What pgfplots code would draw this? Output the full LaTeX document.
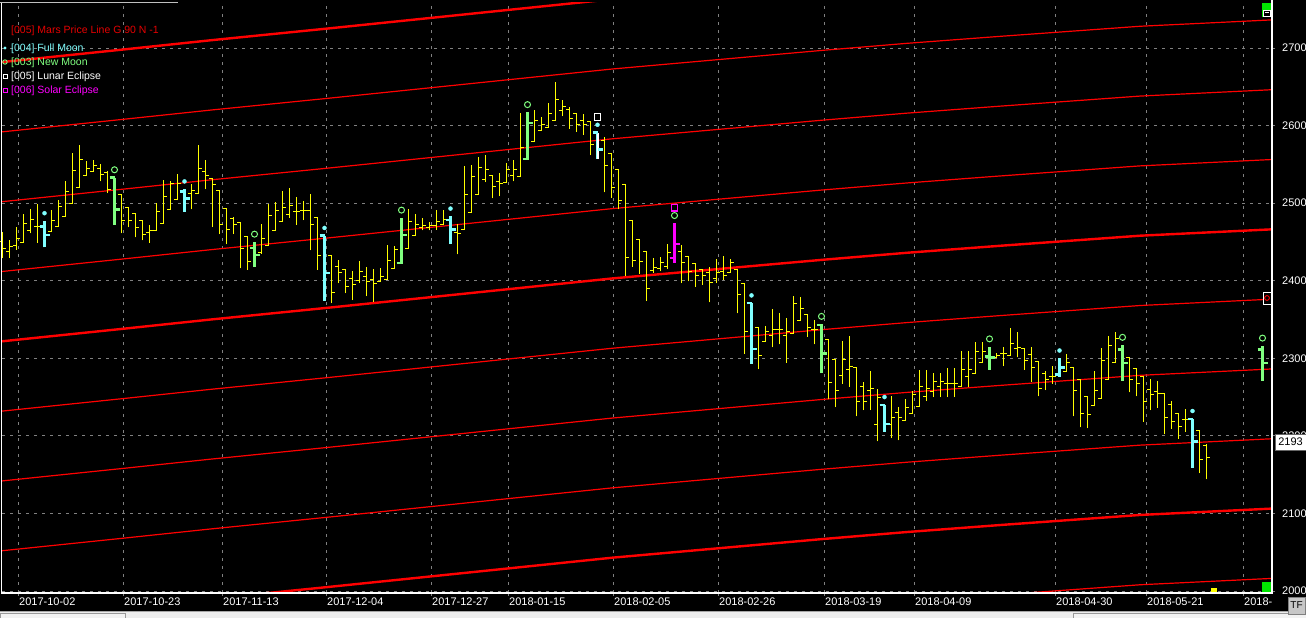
\documentclass[border=0pt]{standalone}
\usepackage{fontspec}
\setmainfont{Liberation Sans}
\usepackage{pgfplots}
\usepackage{pgfplotstable}
\pgfplotsset{compat=1.18}
\definecolor{fm}{RGB}{128,255,255}
\definecolor{nm}{RGB}{128,255,128}
\definecolor{mred}{RGB}{255,0,0}
\definecolor{gridg}{RGB}{128,128,128}
\definecolor{yel}{RGB}{255,255,0}
\definecolor{mag}{RGB}{255,0,255}
\definecolor{uig}{RGB}{0,230,0}
\pgfdeclareplotmark{otick}{\pgfpathmoveto{\pgfqpoint{-\pgfplotmarksize}{0pt}}\pgfpathlineto{\pgfqpoint{0pt}{0pt}}\pgfusepathqstroke}
\pgfdeclareplotmark{ctick}{\pgfpathmoveto{\pgfqpoint{0pt}{0pt}}\pgfpathlineto{\pgfqpoint{\pgfplotmarksize}{0pt}}\pgfusepathqstroke}

\pgfplotstableread{
i a b c d e f g h m n
-1 2681 2591 2501 2411 2321 2231 2141 2051 1961 1871
17.21 2698 2608 2518 2428 2338 2248 2158 2068 1978 1888
29.79 2710 2620 2530 2440 2350 2260 2170 2080 1990 1900
46.36 2725 2635 2545 2455 2365 2275 2185 2095 2005 1915
62.5 2740 2650 2560 2470 2380 2290 2200 2110 2020 1930
87.21 2763 2673 2583 2493 2403 2313 2223 2133 2043 1953
102.21 2775 2685 2595 2505 2415 2325 2235 2145 2055 1965
117.21 2787 2697 2607 2517 2427 2337 2247 2157 2067 1977
129.21 2796 2706 2616 2526 2436 2346 2256 2166 2076 1986
142.5 2805 2715 2625 2535 2445 2355 2265 2175 2085 1995
162.5 2818 2728 2638 2548 2458 2368 2278 2188 2098 2008
182 2826.5 2736.5 2646.5 2556.5 2466.5 2376.5 2286.5 2196.5 2106.5 2016.5
}\mars

\pgfplotstableread{
i o h l c
0 2450 2463 2429 2442
1 2437 2453 2429 2444
2 2446 2469 2440 2455
3 2449 2486 2449 2474
4 2465 2493 2461 2479
5 2470 2499 2449 2470
7 2464 2491 2464 2478
8 2470 2504 2470 2496
9 2483 2528 2483 2515
10 2500 2565 2500 2542
11 2520 2575 2520 2556
12 2535 2554 2535 2544
13 2541 2556 2541 2549
14 2544 2550 2528 2537
15 2539 2541 2513 2517
17 2511 2511 2461 2477
18 2495 2495 2469 2477
19 2486 2486 2456 2469
20 2477 2477 2452 2459
21 2462 2472 2449 2465
22 2465 2500 2465 2489
23 2474 2530 2474 2509
24 2492 2528 2492 2525
25 2505 2538 2504 2525
27 2513 2525 2492 2516
28 2512 2575 2512 2545
29 2541 2555 2518 2535
30 2532 2532 2469 2524
31 2516 2516 2460 2472
32 2493 2493 2447 2466
33 2480 2482 2460 2472
34 2475 2475 2416 2442
35 2457 2457 2414 2425
37 2436 2473 2435 2455
38 2446 2499 2446 2484
39 2465 2502 2465 2490
40 2476 2516 2476 2494
41 2485 2520 2481 2497
42 2489 2508 2472 2489
43 2490 2503 2478 2490
44 2491 2512 2439 2473
45 2482 2482 2414 2432
47 2433 2433 2371 2385
48 2418 2427 2397 2410
49 2414 2414 2384 2393
50 2403 2412 2375 2395
51 2400 2426 2397 2412
52 2405 2418 2380 2399
53 2402 2415 2373 2396
54 2399 2416 2399 2405
55 2402 2446 2402 2426
56 2416 2445 2416 2440
58 2441 2492 2441 2476
59 2458 2486 2458 2473
60 2468 2481 2465 2471
61 2469 2476 2465 2471
62 2471 2491 2466 2476
63 2472 2491 2472 2479
65 2462 2473 2434 2461
66 2466 2548 2466 2511
67 2488 2549 2488 2534
68 2511 2559 2511 2546
69 2530 2562 2527 2543
70 2536 2536 2506 2521
71 2528 2539 2509 2525
72 2527 2552 2527 2543
73 2535 2556 2528 2543
74 2534 2616 2534 2572
76 2579 2620 2579 2607
77 2594 2611 2594 2602
78 2598 2629 2598 2616
79 2606 2656 2606 2634
80 2619 2633 2612 2625
81 2621 2624 2596 2609
82 2616 2616 2592 2602
83 2607 2615 2588 2602
84 2605 2605 2562 2575
86 2581 2585 2514 2549
87 2564 2564 2507 2520
88 2543 2543 2492 2503
89 2524 2524 2406 2430
90 2477 2477 2418 2426
91 2453 2453 2409 2425
92 2438 2438 2374 2390
93 2413 2429 2410 2417
94 2416 2430 2412 2423
95 2418 2447 2415 2436
97 2438 2446 2397 2423
98 2431 2431 2399 2412
99 2422 2422 2392 2407
100 2415 2415 2395 2407
101 2410 2418 2372 2398
102 2403 2428 2397 2410
103 2412 2432 2401 2407
104 2411 2428 2411 2423
105 2415 2415 2358 2382
106 2396 2396 2306 2334
108 2340 2340 2286 2304
109 2321 2342 2321 2334
110 2329 2363 2314 2337
111 2337 2359 2318 2337
112 2329 2352 2294 2334
113 2332 2380 2332 2370
114 2349 2379 2349 2364
115 2357 2357 2328 2340
116 2337 2349 2318 2337
118 2324 2324 2247 2269
119 2298 2298 2237 2259
120 2278 2322 2267 2298
121 2286 2329 2263 2289
122 2288 2288 2225 2244
123 2263 2269 2233 2244
124 2258 2284 2233 2261
125 2214 2260 2193 2250
127 2214 2251 2197 2224
128 2230 2237 2194 2223
129 2220 2247 2220 2237
130 2229 2258 2229 2253
131 2238 2285 2238 2263
132 2251 2285 2245 2261
133 2257 2281 2250 2270
134 2263 2281 2250 2270
135 2268 2287 2250 2268
136 2268 2287 2250 2268
137 2263 2310 2263 2285
138 2276 2310 2263 2285
139 2281 2321 2281 2309
140 2294 2321 2294 2309
142 2301 2307 2300 2303
143 2306 2314 2290 2306
144 2304 2339 2303 2319
145 2312 2334 2301 2314
146 2313 2313 2285 2297
147 2305 2314 2269 2288
148 2296 2296 2251 2261
149 2280 2284 2259 2272
150 2276 2290 2267 2276
152 2283 2306 2283 2294
153 2288 2288 2225 2258
154 2273 2273 2211 2229
155 2251 2251 2210 2227
156 2239 2284 2238 2259
157 2248 2313 2248 2297
158 2273 2329 2273 2316
159 2294 2334 2294 2325
161 2301 2301 2256 2273
162 2287 2287 2251 2267
163 2277 2277 2218 2244
164 2260 2273 2233 2253
165 2257 2271 2236 2254
166 2255 2255 2202 2223
167 2240 2245 2209 2219
168 2229 2229 2196 2212
169 2221 2234 2205 2221
171 2207 2207 2152 2169
172 2188 2190 2144 2172
}\yeltab

\pgfplotstableread{
i o h l c
6 2470 2477 2443 2459
26 2515 2518 2489 2506
46 2458 2458 2374 2410
64 2478 2483 2447 2466
85 2591 2591 2557 2569
107 2371 2371 2293 2312
126 2240 2240 2205 2215
151 2279 2300 2276 2288
170 2222 2222 2159 2193
}\fulltab

\pgfplotstableread{
i o h l c
16 2533 2533 2472 2492
36 2442 2450 2418 2433
57 2423 2481 2422 2459
75 2557 2617 2556 2603
96 2429 2474 2423 2447
117 2343 2344 2281 2306
141 2302 2315 2285 2301
160 2311 2317 2271 2294
180 2311 2316 2271 2294
}\newtab

\pgfplotstableread{
i o h l c
85 2591 2591 2557 2569
}\lunartab

\pgfplotstableread{
i o h l c
96 2429 2474 2423 2447
}\solartab

\newcommand{\hilo}[3]{%
  \addplot[only marks, mark=*, mark size=0pt, mark options={draw=none, fill=none}, color=#2,
    error bars/.cd, y dir=plus, y explicit, error mark=none,
    error bar style={draw=#2, line width=#3}]
    table[x=i, y=l, y error expr=\thisrow{h}-\thisrow{l}] {#1};}
\newcommand{\octicks}[4]{%
  \addplot[only marks, mark=otick, mark size=#4, color=#2, mark options={line width=#3}] table[x=i, y=o] {#1};
  \addplot[only marks, mark=ctick, mark size=#4, color=#2, mark options={line width=#3}] table[x=i, y=c] {#1};}

\begin{document}
\begin{tikzpicture}[x=1pt,y=1pt]
\useasboundingbox (0,0) rectangle (1306,618);
\fill[black] (0,0) rectangle (1306,618);
\fill[black!7] (0,0) rectangle (1306,7);
\draw[black!35] (0,7) -- (1306,7);
\draw[black!40, fill=white!95!black] (0.5,-1) rectangle (125,5);
\draw[black!40, fill=white!95!black] (1073,-1) rectangle (1306,5);
\begin{axis}[
  at={(2pt,25pt)}, anchor=south west, scale only axis,
  width=1270pt, height=590pt,
  xmin=-0.0714, xmax=181.357, ymin=1997.4, ymax=2758,
  axis line style={draw=none},
  axis background/.style={fill=black},
  xtick={2.21,17.21,31.36,46.21,61.21,72.21,87.21,102.21,117.36,130.21,150.36,163.36,177.21},
  xticklabels={2017-10-02,2017-10-23,2017-11-13,2017-12-04,2017-12-27,2018-01-15,2018-02-05,2018-02-26,2018-03-19,2018-04-09,2018-04-30,2018-05-21,2018-},
  ytick={2000,2100,2200,2300,2400,2500,2600,2700},
  ytick pos=right, yticklabel pos=right, xtick pos=bottom,
  tick align=outside, major tick length=3pt,
  tick style={gridg, line width=0.8pt},
  grid=major,
  major grid style={gridg, line width=0.9pt, dash pattern=on 3pt off 5pt},
  ticklabel style={font=\fontsize{11}{12}\selectfont, text=white},
  yticklabel style={anchor=west, inner sep=0pt, xshift=7pt},
  xticklabel style={anchor=north west, inner sep=0pt, yshift=-2pt, xshift=1pt},
  /pgf/number format/1000 sep={},
  /pgf/number format/assume math mode=true,
  clip=true,
]
% Mars price lines
\addplot[mred, line width=2.4pt] table[x=i, y=a] {\mars};
\addplot[mred, line width=1.2pt] table[x=i, y=b] {\mars};
\addplot[mred, line width=1.2pt] table[x=i, y=c] {\mars};
\addplot[mred, line width=1.2pt] table[x=i, y=d] {\mars};
\addplot[mred, line width=2.4pt] table[x=i, y=e] {\mars};
\addplot[mred, line width=1.2pt] table[x=i, y=f] {\mars};
\addplot[mred, line width=1.2pt] table[x=i, y=g] {\mars};
\addplot[mred, line width=1.2pt] table[x=i, y=h] {\mars};
\addplot[mred, line width=2.4pt] table[x=i, y=m] {\mars};
\addplot[mred, line width=1.2pt] table[x=i, y=n] {\mars};
% price bars
\hilo{\yeltab}{yel}{1pt}
\octicks{\yeltab}{yel}{1pt}{3.5pt}
\hilo{\fulltab}{fm}{3pt}
\octicks{\fulltab}{fm}{2.5pt}{5pt}
\hilo{\newtab}{nm}{3pt}
\octicks{\newtab}{nm}{2.5pt}{5pt}
\hilo{\lunartab}{white}{2pt}
\hilo{\solartab}{mag}{2.4pt}
\octicks{\solartab}{mag}{2.5pt}{5pt}
% moon markers
\addplot[only marks, mark=*, mark size=2pt, color=fm] table[x=i, y expr=\thisrow{h}+10] {\fulltab};
\addplot[only marks, mark=o, mark size=3pt, color=nm, mark options={line width=1pt}] table[x=i, y expr=\thisrow{h}+10] {\newtab};
\addplot[only marks, mark=square, mark size=3.2pt, color=white, mark options={line width=1.3pt}] table[x=i, y expr=\thisrow{h}+20] {\lunartab};
\addplot[only marks, mark=square, mark size=3.2pt, color=mag, mark options={line width=1.3pt}] table[x=i, y expr=\thisrow{h}+20] {\solartab};
\addplot[only marks, mark=square*, mark size=2.5pt, color=yel] coordinates {(173,2001)};
\end{axis}
% frame
\draw[white, line width=1.2pt] (1.5,615) -- (1.5,25) -- (1272,25) -- (1272,618);
\draw[black!25, line width=1pt] (0,615) -- (178,615);
% UI decorations
\fill[uig] (1262,601) rectangle (1271.4,615);
\draw[white, fill=black, line width=0.8pt] (1263.5,602) rectangle (1270,608);
\draw[white, line width=1pt] (1265,605) -- (1268.5,605);
\fill[uig] (1262,25.6) rectangle (1271.4,36);
\draw[white, fill=black, line width=0.8pt] (1263,314) rectangle (1271,326);
\draw[mred, line width=0.9pt] (1267,320) ellipse (2.4pt and 2.4pt);
% last price box
\draw[black!60, fill=white] (1275,168) rectangle (1307,184);
\node[font=\fontsize{11}{12}\selectfont, text=black, inner sep=0pt] at (1290.5,176) {2193};
% TF button
\draw[black!50, fill=black!22] (1288,4) rectangle (1305,21);
\node[font=\fontsize{10}{11}\selectfont, text=black, inner sep=0pt] at (1296.5,12.5) {TF};
% legend
\node[font=\fontsize{10.5}{12}\selectfont, text=mred!90!black, anchor=west, inner sep=0pt] at (11,587) {[005] Mars Price Line G 90 N -1};
\fill[fm] (5,570) circle (1.7pt);
\node[font=\fontsize{10.5}{12}\selectfont, text=fm, anchor=west, inner sep=0pt] at (11,569) {[004] Full Moon};
\draw[nm, line width=0.9pt] (5,556) circle (2.2pt);
\node[font=\fontsize{10.5}{12}\selectfont, text=nm, anchor=west, inner sep=0pt] at (11,555) {[003] New Moon};
\draw[white, line width=0.9pt] (3,539.5) rectangle (7.5,544);
\node[font=\fontsize{10.5}{12}\selectfont, text=white, anchor=west, inner sep=0pt] at (11,541) {[005] Lunar Eclipse};
\draw[mag, line width=0.9pt] (3,525.5) rectangle (7.5,530);
\node[font=\fontsize{10.5}{12}\selectfont, text=mag, anchor=west, inner sep=0pt] at (11,527) {[006] Solar Eclipse};
\end{tikzpicture}
\end{document}
